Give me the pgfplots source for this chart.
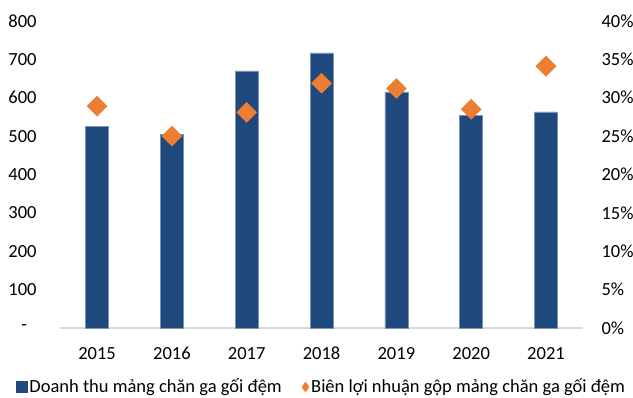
\documentclass[border=0pt]{standalone}
\usepackage{pgfplots}
\pgfplotsset{compat=1.18}
\usepackage{fontspec}
\setmainfont{Carlito}
\definecolor{barblue}{HTML}{1F497D}
\definecolor{diaor}{HTML}{ED7D31}
\definecolor{axgray}{HTML}{D9D9D9}
\begin{document}
\fontsize{18.5bp}{22bp}\selectfont
\begin{tikzpicture}
\useasboundingbox (-59.7bp,-70bp) rectangle (573.3bp,328bp);
\begin{axis}[
  scale only axis, width=523.7bp, height=307bp,
  xmin=-0.5, xmax=6.5, ymin=0, ymax=800,
  axis x line*=bottom, axis y line*=left,
  x axis line style={draw=axgray, line width=1.5bp, -},
  y axis line style={draw=none},
  major tick length=0,
  xtick={0,...,6},
  xticklabels={2015,2016,2017,2018,2019,2020,2021},
  ytick={0,100,...,800},
  yticklabels={-\hphantom{0},100,200,300,400,500,600,700,800},
  /pgf/number format/assume math mode=true,
  ticklabel style={font=\fontsize{18.5bp}{22bp}\selectfont},
  yticklabel style={anchor=east, inner sep=0pt, xshift=-23bp},
  xticklabel style={anchor=north, inner sep=0pt, yshift=-19bp},
  clip=false,
]
\addplot[ybar, bar width=23bp, bar shift=0pt, fill=barblue, draw=barblue!60!white, line width=0.4bp]
 coordinates {(0,525) (1,505) (2,670) (3,717) (4,615) (5,555) (6,563)};
\end{axis}
\begin{axis}[
  scale only axis, width=523.7bp, height=307bp,
  xmin=-0.5, xmax=6.5, ymin=0, ymax=40,
  axis x line=none, axis y line*=right,
  y axis line style={draw=none},
  major tick length=0,
  ytick={0,5,...,40},
  yticklabel={\pgfmathprintnumber{\tick}\%},
  /pgf/number format/assume math mode=true,
  ticklabel style={font=\fontsize{18.5bp}{22bp}\selectfont},
  yticklabel style={anchor=west, inner sep=0pt, xshift=18bp},
  clip=false,
  legend columns=2,
  legend style={draw=none, fill=none, at={(rel axis cs:0.5,0)}, anchor=center, yshift=-59bp,
     font=\fontsize{18.5bp}{22bp}\selectfont, inner sep=0pt,
     /tikz/every even column/.append style={column sep=18bp}},
  legend cell align=left,
]
\addlegendimage{area legend, legend image code/.code={\fill[barblue] (3bp,-5.5bp) rectangle (14bp,5.5bp);}}
\addlegendentry{Doanh thu mảng chăn ga gối đệm}
\addlegendimage{legend image code/.code={\fill[diaor] (10bp,0) -- (13.5bp,5bp) -- (17bp,0) -- (13.5bp,-5bp) -- cycle;}}
\addlegendentry{Biên lợi nhuận gộp mảng chăn ga gối đệm}
\addplot[only marks, mark=square*, mark size=7.1bp, color=diaor, mark options={fill=diaor, draw=diaor, rotate=45}]
 coordinates {(0,28.9) (1,25.0) (2,28.1) (3,31.9) (4,31.2) (5,28.5) (6,34.1)};
\end{axis}
\end{tikzpicture}
\end{document}
